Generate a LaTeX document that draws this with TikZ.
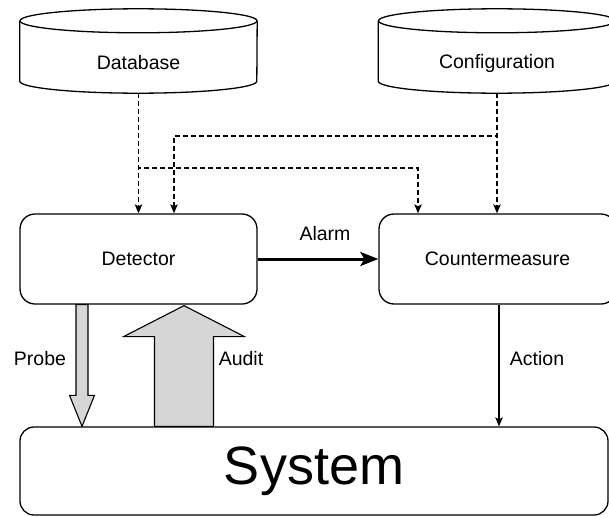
\documentclass[tikz,border=0pt]{standalone}
\usepackage{fontspec}
\setmainfont{Liberation Sans}
\usetikzlibrary{calc,arrows.meta}
\begin{document}
\begin{tikzpicture}[x=1pt,y=-1pt,
  every node/.style={font=\fontsize{19.5}{23}\selectfont, inner sep=0pt},
  store/.style={minimum width=237pt, minimum height=60pt},
  procbox/.style={draw, line width=1.3pt, rounded corners=15pt, minimum width=237pt, minimum height=90pt},
  cyl/.style={draw, line width=1.3pt},
  feed/.style={line width=1.3pt, dash pattern=on 5pt off 3pt, -{Stealth[length=9pt,width=7.5pt,inset=2pt]}},
  flow/.style={line width=1.3pt, -{Stealth[length=9pt,width=7.5pt,inset=2pt]}},
  alarmline/.style={line width=3pt, -{Stealth[length=18pt,width=14pt,inset=4pt]}},
  blockarrow/.style={draw, line width=1.1pt, fill=black!16, line join=miter},
  lbl/.style={}
]
\useasboundingbox (0,0) rectangle (609,516);
\clip (0,0) rectangle (609,516);

% data stores (text area below the top ellipse)
\node[store] (db)  at (138.5,63) {Database};
\node[store] (cfg) at (497,63) {Configuration};

% cylinder outlines around the stores
\foreach \s in {db,cfg}{
  \draw[cyl] ($(\s.north west)+(0,-12)$) -- ($(\s.south west)+(0,-12)$)
    arc[start angle=180, end angle=360, x radius=118.5pt, y radius=12pt]
    -- ($(\s.north east)+(0,-12)$);
  \draw[cyl] ($(\s.north)+(0,-12)$) ellipse[x radius=118.5pt, y radius=12pt];
}

% processing boxes
\node[procbox] (det) at (138.5,259) {Detector};
\node[procbox] (cm)  at (497.5,259) {Countermeasure};
\node[draw, line width=1.3pt, rounded corners=14pt, minimum width=588pt, minimum height=88pt,
      font=\fontsize{54}{60}\selectfont] (sys) at (314,471) {System};

% bend points of the dashed feeds
\coordinate (dbbend) at (138.5,168);
\coordinate (cfgbend) at (497,136);
\coordinate (cmin) at (418,0);
\coordinate (detin) at (174,0);

% dashed feeds from the stores
\draw[feed] (db.south) -- (det.north -| db.south);
\draw[feed] (db.south) -- (dbbend) -- (dbbend -| cmin) -- (cm.north -| cmin);
\draw[feed] (cfg.south) -- (cm.north -| cfg.south);
\draw[feed] (cfg.south) -- (cfgbend) -- (cfgbend -| detin) -- (det.north -| detin);

% alarm
\draw[alarmline] (det.east) -- (cm.west);
\node[lbl] (alarm) at (325,234) {Alarm};

% action
\coordinate (actx) at (499,0);
\draw[flow] (cm.south -| actx) -- (sys.north -| actx);
\node[lbl] (action) at (537,359) {Action};

% probe (narrow block arrow down)
\coordinate (px) at (82,0);
\draw[blockarrow] ($(det.south -| px)+(-6,0)$) -- ($(det.south -| px)+(6,0)$)
  -- ($(sys.north -| px)+(6,-31)$) -- ($(sys.north -| px)+(12.5,-31)$)
  -- (sys.north -| px) -- ($(sys.north -| px)+(-12.5,-31)$)
  -- ($(sys.north -| px)+(-6,-31)$) -- cycle;
\node[lbl] (probe) at (40,359) {Probe};

% audit (wide block arrow up)
\coordinate (ax) at (184,0);
\draw[blockarrow] ($(sys.north -| ax)+(-29.5,0)$) -- ($(sys.north -| ax)+(29.5,0)$)
  -- ($(det.south -| ax)+(29.5,32)$) -- ($(det.south -| ax)+(60.5,32)$)
  -- ($(det.south -| ax)+(0,1)$) -- ($(det.south -| ax)+(-60.5,32)$)
  -- ($(det.south -| ax)+(-29.5,32)$) -- cycle;
\node[lbl] (audit) at (241,359) {Audit};
\end{tikzpicture}
\end{document}
